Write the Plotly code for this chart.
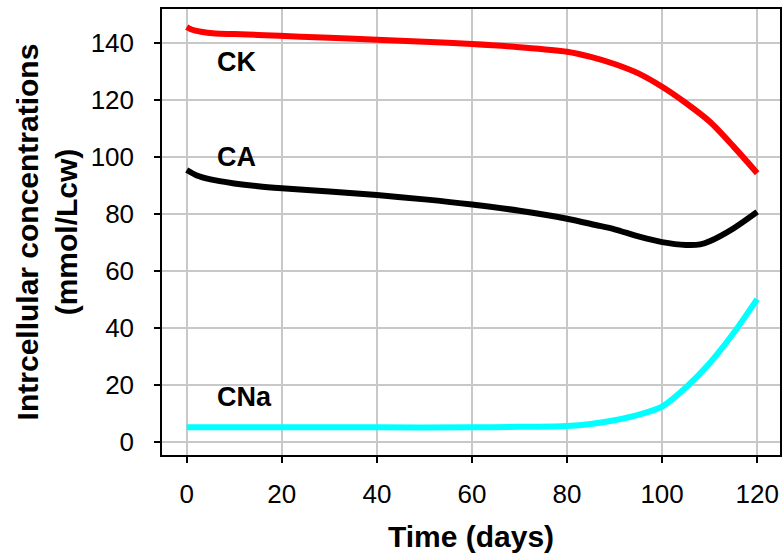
import plotly.graph_objects as go

# Time axis (days) and intracellular concentrations (mmol/Lcw)
days_ck = [0, 1, 3, 6, 10, 15, 24, 30, 40, 50, 60, 70, 80, 85, 90, 95, 100, 105, 110, 115, 120]
ck = [145.5, 144.6, 143.8, 143.2, 143.0, 142.7, 142.1, 141.7, 141.0, 140.3, 139.5, 138.4, 136.8,
      135.0, 132.5, 129.2, 124.5, 118.8, 112.3, 103.6, 94.2]

days_ca = [0, 2, 5, 10, 15, 20, 30, 40, 50, 60, 70, 80, 86, 90, 95, 100, 105, 108, 110, 115, 120]
ca = [95.3, 93.5, 92.0, 90.6, 89.6, 88.9, 87.8, 86.5, 85.0, 83.2, 81.0, 78.2, 76.0, 74.5, 72.0,
      70.0, 69.0, 69.2, 70.3, 74.8, 80.6]

days_cna = [0, 20, 40, 60, 70, 80, 85, 90, 95, 100, 105, 110, 115, 120]
cna = [5.0, 5.0, 5.0, 5.0, 5.2, 5.5, 6.2, 7.5, 9.4, 12.3, 19.0, 27.5, 38.0, 50.0]

series = [
    ("CK", days_ck, ck, "#ff0000"),
    ("CA", days_ca, ca, "#000000"),
    ("CNa", days_cna, cna, "#00ffff"),
]

# Curve labels: (text, x, y)
labels = [("CK", 10.4, 133.3), ("CA", 10.4, 99.8), ("CNa", 12.1, 15.5)]

x_ticks = [0, 20, 40, 60, 80, 100, 120]
y_ticks = [0, 20, 40, 60, 80, 100, 120, 140]

font_family = "Liberation Sans, Arial, sans-serif"

fig = go.Figure()
for name, xs, ys, color in series:
    fig.add_trace(go.Scatter(
        x=xs, y=ys, mode="lines", name=name,
        line=dict(color=color, width=6, shape="spline", smoothing=0.8),
        showlegend=False,
    ))

for text, lx, ly in labels:
    fig.add_annotation(
        x=lx, y=ly, xref="x", yref="y", text=f"<b>{text}</b>",
        showarrow=False, font=dict(family=font_family, size=27, color="#000000"),
    )

axis_common = dict(
    showgrid=True, gridcolor="#c8c8c8", gridwidth=1.5,
    showline=True, linecolor="#000000", linewidth=1.5, mirror=True,
    ticks="outside", ticklen=6, tickwidth=1.5, tickcolor="#000000",
    tickfont=dict(family=font_family, size=26, color="#000000"),
    zeroline=False,
)

fig.update_xaxes(
    range=[-5.2, 124.8], tickvals=x_ticks, ticklabelstandoff=9,
    title=dict(text="<b>Time (days)</b>", font=dict(family=font_family, size=30, color="#000000"),
               standoff=18),
    **axis_common,
)
fig.update_yaxes(
    range=[-4.7, 151.8], tickvals=y_ticks, ticklabelstandoff=15,
    title=dict(text="<b>Intrcellular concentrations<br>(mmol/Lcw)</b>",
               font=dict(family=font_family, size=30, color="#000000"), standoff=4),
    **axis_common,
)

fig.update_layout(
    width=783, height=556,
    margin=dict(l=162, r=1, t=9, b=101),
    paper_bgcolor="#ffffff", plot_bgcolor="#ffffff",
)

fig.write_html("out.html")
